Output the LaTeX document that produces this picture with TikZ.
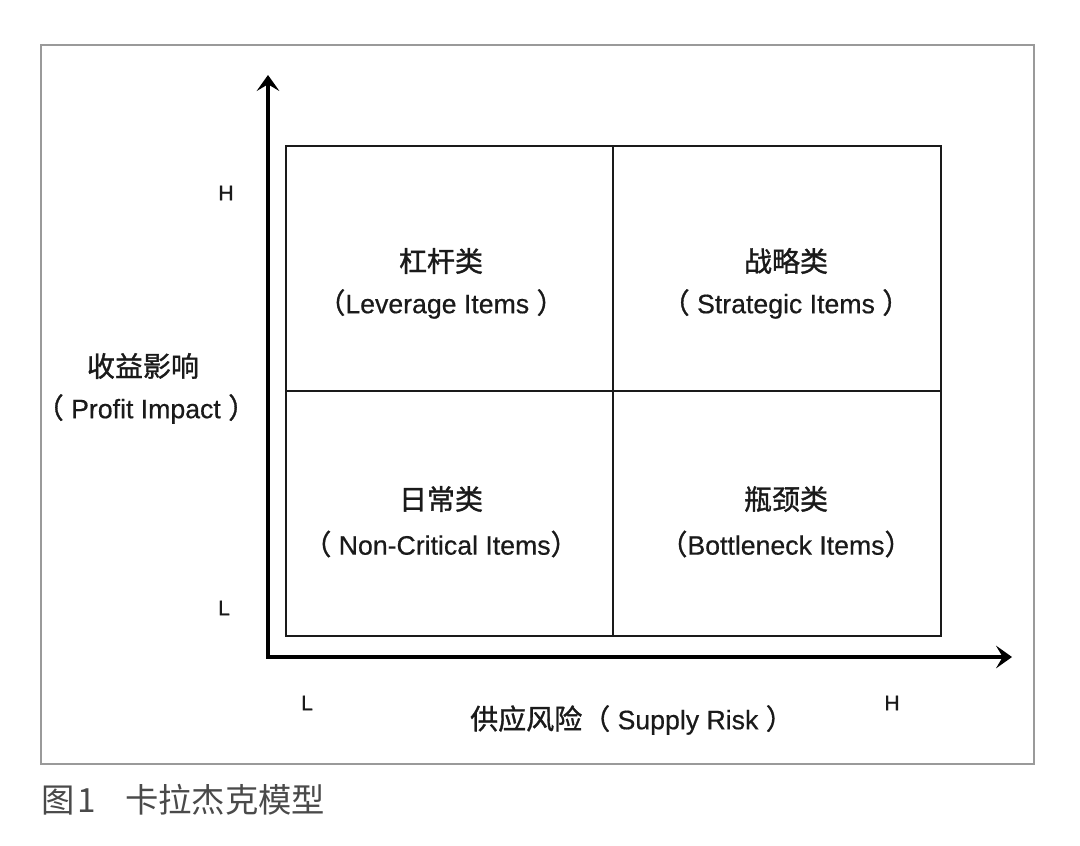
\documentclass[tikz,border=0pt]{standalone}
\usepackage{fontspec}
\setmainfont{Liberation Sans}[FakeBold=0.5]
\newfontfamily\cjk{Noto Sans CJK SC}[FakeBold=1.2]
\newfontfamily\cjkcap{Noto Sans CJK SC}
\usetikzlibrary{arrows.meta}
\definecolor{framegray}{HTML}{9A9A9A}
\definecolor{captiongray}{HTML}{4A4A4A}
\definecolor{textblack}{HTML}{1A1A1A}
\newcommand{\zh}[1]{{\cjk\fontsize{21}{24}\selectfont #1}}
\tikzset{
  axis/.style={line width=3pt, line join=miter, {Stealth[length=12pt,width=17pt,inset=5pt]}-{Stealth[length=12pt,width=17pt,inset=5pt]}},
  cellline/.style={line width=1.2pt, draw=textblack},
  quadtext/.style={font=\fontsize{20}{24}\selectfont, text=textblack, align=center, inner sep=0pt},
  ticklabel/.style={font=\fontsize{16}{18}\selectfont, text=textblack, inner sep=0pt},
  caption/.style={font=\cjkcap\fontsize{25}{28}\selectfont, text=captiongray, anchor=west, inner sep=0pt}
}
\begin{document}
\begin{tikzpicture}[x=0.75pt,y=-0.75pt]
\useasboundingbox (0,0) rectangle (1080,845);
\fill[white] (0,0) rectangle (1080,845);
% outer frame
\draw[framegray, line width=1pt] (41,45) rectangle (1034,764);
% quadrant grid
\draw[cellline] (286,146) rectangle (941,636);
\coordinate (vtop) at (613,146);
\coordinate (vbot) at (613,636);
\coordinate (hleft) at (286,391);
\coordinate (hright) at (941,391);
\draw[cellline] (vtop) -- (vbot);
\draw[cellline] (hleft) -- (hright);
% axes
\coordinate (O) at (268,657);
\coordinate (ytop) at (268,75);
\coordinate (xend) at (1012,657);
\draw[axis] (ytop) -- (O) -- (xend);
% quadrant labels
\node[quadtext] (lev1) at (441,261) {\zh{杠杆类}};
\node[quadtext] (lev2) at (441,304) {\zh{（}Leverage Items \zh{）}};
\node[quadtext] (str1) at (786,261) {\zh{战略类}};
\node[quadtext] (str2) at (786,304) {\zh{（} Strategic Items \zh{）}};
\node[quadtext] (non1) at (441,499) {\zh{日常类}};
\node[quadtext] (non2) at (441,544) {\zh{（} Non-Critical Items\zh{）}};
\node[quadtext] (bot1) at (786,499) {\zh{瓶颈类}};
\node[quadtext] (bot2) at (786,544) {\zh{（}Bottleneck Items\zh{）}};
% axis titles
\node[quadtext] (yt1) at (143,366) {\zh{收益影响}};
\node[quadtext] (yt2) at (146,409) {\zh{（} Profit Impact \zh{）}};
\node[quadtext] (xt) at (632,720) {\zh{供应风险（} Supply Risk \zh{）}};
% tick labels
\node[ticklabel] (yH) at (226,193) {H};
\node[ticklabel] (yL) at (224,608) {L};
\node[ticklabel] (xL) at (307,703) {L};
\node[ticklabel] (xH) at (892,703) {H};
% caption
\node[caption] (cap) at (41,800) {图\hspace{2pt}1\hspace{22pt}卡拉杰克模型};
\end{tikzpicture}
\end{document}
